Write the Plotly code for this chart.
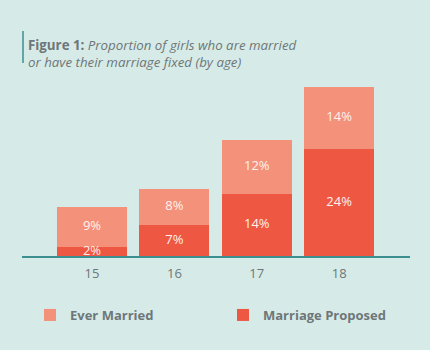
import plotly.graph_objects as go

ages = ["15", "16", "17", "18"]
marriage_proposed = [2, 7, 14, 24]
ever_married = [9, 8, 12, 14]
proposed_labels = ["2%", "7%", "14%", "24%"]
married_labels = ["9%", "8%", "12%", "14%"]

BG = "#d6ebe7"
LIGHT = "#f4917b"
DARK = "#ee5843"
GRAY = "#6e7678"
TEAL = "#3c8f90"
FONT = "Open Sans"

W, H = 430, 350
L, R, T, B = 22, 20, 80, 94
pw, ph = W - L - R, H - T - B


def px_x(p):
    return (p - L) / pw


def px_y(p):
    return (H - B - p) / ph


fig = go.Figure()
fig.add_trace(go.Bar(x=ages, y=marriage_proposed, name="Marriage Proposed",
                     marker=dict(color=DARK, line=dict(width=0)), width=0.85,
                     hoverinfo="skip"))
fig.add_trace(go.Bar(x=ages, y=ever_married, name="Ever Married",
                     marker=dict(color=LIGHT, line=dict(width=0)), width=0.85,
                     hoverinfo="skip"))

prop_y = [v / 2 for v in marriage_proposed]
mar_y = [p + m / 2 for p, m in zip(marriage_proposed, ever_married)]
fig.add_trace(go.Scatter(x=ages, y=prop_y, text=proposed_labels, mode="text",
                         textfont=dict(color="#fdf1ed", size=13, family=FONT),
                         showlegend=False, hoverinfo="skip"))
fig.add_trace(go.Scatter(x=ages, y=mar_y, text=married_labels, mode="text",
                         textfont=dict(color="#fdf1ed", size=13, family=FONT),
                         showlegend=False, hoverinfo="skip"))

fig.update_layout(
    width=W, height=H,
    margin=dict(l=L, r=R, t=T, b=B, pad=0),
    paper_bgcolor=BG, plot_bgcolor=BG,
    barmode="stack",
    font=dict(family=FONT, color=GRAY, size=13),
    xaxis=dict(range=[-0.85, 3.86], showgrid=False, zeroline=False,
               showline=True, linecolor=TEAL, linewidth=1.5,
               ticks="", ticklabelstandoff=5,
               tickfont=dict(size=13, color=GRAY, family=FONT)),
    yaxis=dict(range=[0, 39.55], visible=False, showgrid=False, zeroline=False),
    legend=dict(orientation="h", traceorder="reversed",
                x=px_x(30), xanchor="left", y=px_y(315), yanchor="middle",
                bgcolor="rgba(0,0,0,0)", entrywidth=148, entrywidthmode="pixels",
                font=dict(size=13, color=GRAY, family=FONT),
                itemclick=False),
    showlegend=True,
)

fig.add_annotation(
    xref="paper", yref="paper", x=px_x(26), y=px_y(34),
    xanchor="left", yanchor="top", align="left", showarrow=False,
    text="<b>Figure 1:</b> <i>Proportion of girls who are married</i><br><i>or have their marriage fixed (by age)</i>",
    font=dict(size=13.3, color=GRAY, family=FONT),
)
fig.add_shape(type="line", xref="paper", yref="paper",
              x0=px_x(23), x1=px_x(23), y0=px_y(31), y1=px_y(63),
              line=dict(color=TEAL, width=1.5))

fig.for_each_trace(lambda t: t.update(name="<b>" + t.name + "</b>") if t.type == "bar" else None)

fig.write_html("out.html")
